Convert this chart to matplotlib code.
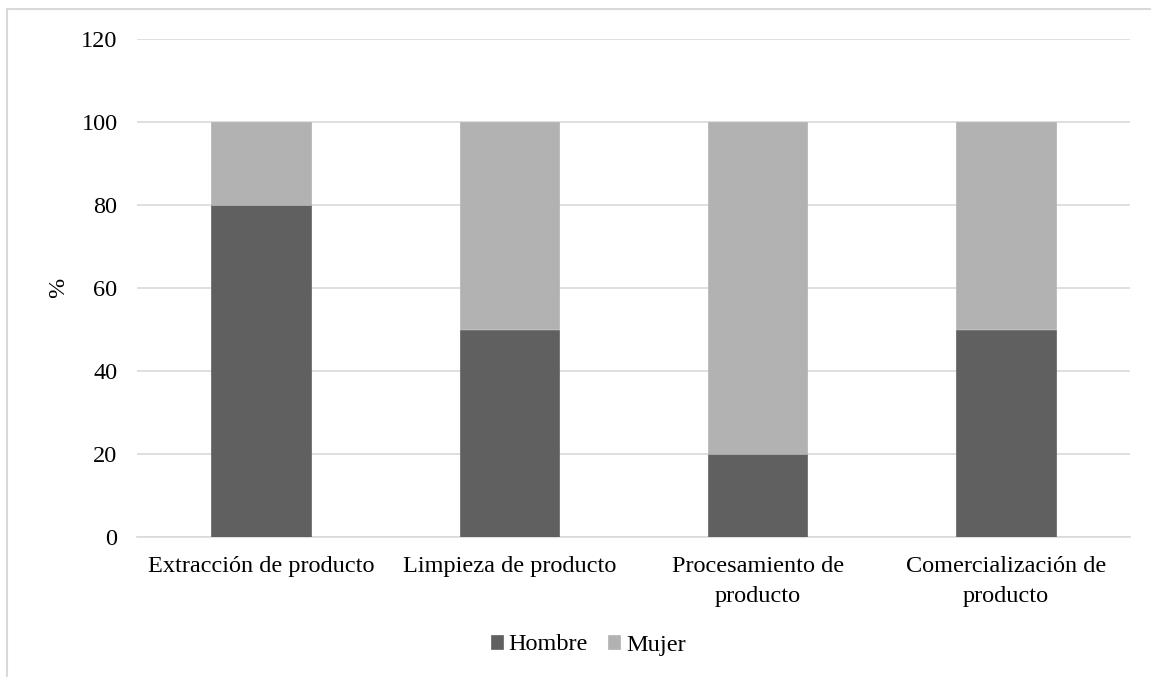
import numpy as np
import matplotlib.pyplot as plt
from matplotlib.patches import Rectangle

categorias = ['Extracción de producto', 'Limpieza de producto',
              'Procesamiento de\nproducto', 'Comercialización de\nproducto']
hombre = [80, 50, 20, 50]
mujer = [20, 50, 80, 50]
series = ['Hombre', 'Mujer']
colores = ['#606060', '#b2b2b2']
yticks = [0, 20, 40, 60, 80, 100, 120]

plt.rcParams['font.family'] = ['Liberation Serif', 'DejaVu Serif']

W, H = 1151, 677
fs = 17.5
fig = plt.figure(figsize=(W / 100, H / 100), dpi=100)
ax = fig.add_axes([137 / W, 1 - 537 / H, (1130 - 137) / W, (537 - 39) / H])

x = np.arange(len(categorias))
ax.bar(x, hombre, width=0.4, color=colores[0], edgecolor=colores[0], linewidth=0.5,
       label=series[0], zorder=3)
ax.bar(x, mujer, width=0.4, bottom=hombre, color=colores[1], edgecolor=colores[1],
       linewidth=0.5, label=series[1], zorder=3)

ax.set_xlim(-0.5, len(categorias) - 0.5)
ax.set_ylim(0, 120)
ax.set_yticks(yticks)
ax.set_xticks(x)
ax.set_xticklabels(categorias, fontsize=fs, linespacing=1.52)
ax.tick_params(axis='y', labelsize=fs, length=0, pad=14)
ax.tick_params(axis='x', length=0, pad=14)
ax.yaxis.grid(True, color='#d9d9d9', linewidth=1.2, zorder=0)
for s in ['top', 'right', 'left']:
    ax.spines[s].set_visible(False)
ax.spines['bottom'].set_color('#d9d9d9')
ax.spines['bottom'].set_linewidth(1.2)
ax.set_ylabel('%', fontsize=fs)
ax.yaxis.set_label_coords(-0.068, 0.5)

fig.legend(loc='center', bbox_to_anchor=(588 / W, 1 - 645 / H), ncol=2, frameon=False,
           fontsize=fs, handlelength=0.5, handleheight=0.5, handletextpad=0.22,
           columnspacing=0.86)

# borde del área del gráfico
fig.patches.append(Rectangle((7 / W, -0.1), 1.2, 1 - 9 / H + 0.1, transform=fig.transFigure,
                             fill=False, edgecolor='#d9d9d9', linewidth=1.5))

fig.savefig('out.png', dpi=100)
